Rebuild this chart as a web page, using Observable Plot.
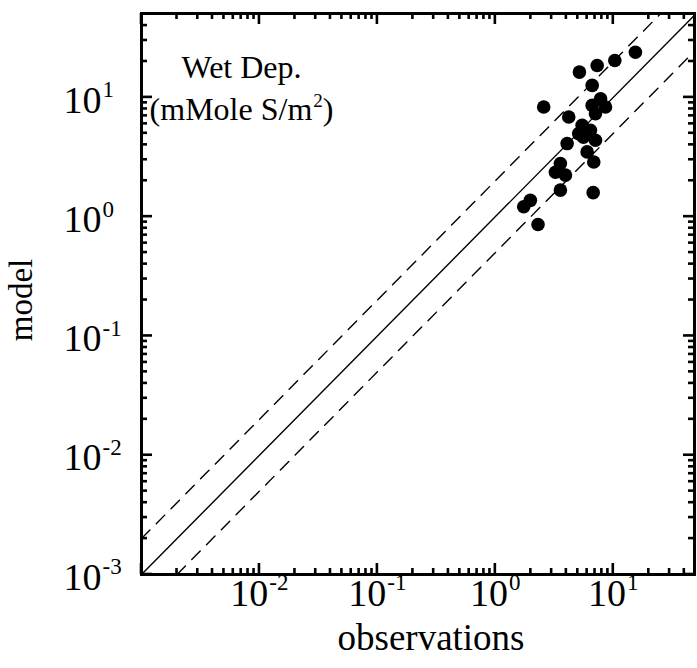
<!DOCTYPE html>
<html><head><meta charset="utf-8">
<script src="https://cdn.jsdelivr.net/npm/d3@7"></script>
<script src="https://cdn.jsdelivr.net/npm/@observablehq/plot@0.6"></script>
<style>body{margin:0;background:#fff} #chart svg{display:block}</style>
</head><body><div id="chart"></div>
<script>
// observations vs model (mMole S/m^2)
const obs   = [15.4, 10.3, 7.3, 5.16, 6.62, 2.57, 7.8, 6.62, 8.59, 7.06, 4.19, 5.44, 5.09, 6.4, 5.58, 7.06, 4.06, 6.0, 6.83, 3.56, 3.23, 3.93, 3.56, 6.75, 1.98, 1.74, 2.30];
const model = [23.9, 20.4, 18.5, 16.3, 12.6, 8.3, 9.75, 8.57, 8.3, 7.3, 6.84, 5.83, 4.97, 5.3, 4.63, 4.37, 4.1, 3.49, 2.87, 2.79, 2.36, 2.23, 1.67, 1.59, 1.37, 1.21, 0.86];
const xExponents = [-2, -1, 0, 1];
const yExponents = [-3, -2, -1, 0, 1];
const xDomain = [1e-3, 48.8];
const yDomain = [1e-3, 50.5];
const lineFactors = [1, 2, 0.5];
const titleLines = ["Wet Dep.", "(mMole S/m^{2})"];
const xLabel = "observations";
const yLabel = "model";

const W = 697, H = 668, mL = 141, mR = 3, mT = 13, mB = 94;
const innerW = W - mL - mR, innerH = H - mT - mB;

const points = obs.map((o, i) => ({obs: o, model: model[i]}));
const refLines = lineFactors.flatMap(f => {
  const x1 = Math.max(xDomain[0], yDomain[0] / f), x2 = Math.min(xDomain[1], yDomain[1] / f);
  return [{f, x: x1, y: f * x1}, {f, x: x2, y: f * x2}];
});
const isMajor = v => Math.abs(Math.log10(v) - Math.round(Math.log10(v))) < 1e-9;
const xAll = d3.scaleLog().domain(xDomain).ticks();
const yAll = d3.scaleLog().domain(yDomain).ticks();
const xMajor = xAll.filter(isMajor), xMinor = xAll.filter(v => !isMajor(v));
const yMajor = yAll.filter(isMajor), yMinor = yAll.filter(v => !isMajor(v));
const majLen = 11, minLen = 6, tw = 1.3;

// inward tick marks drawn as thin rects spanning a few pixels from each frame edge
const tickRectsX = (vals, len, side) => Plot.rect(vals, {
  x1: d => d, x2: d => d, insetLeft: -tw, insetRight: -tw,
  insetTop: side === "bottom" ? innerH - len : 0,
  insetBottom: side === "top" ? innerH - len : 0,
  fill: "#000"
});
const tickRectsY = (vals, len, side) => Plot.rect(vals, {
  y1: d => d, y2: d => d, insetTop: -tw, insetBottom: -tw,
  insetRight: side === "left" ? innerW - len : 0,
  insetLeft: side === "right" ? innerW - len : 0,
  fill: "#000"
});

const chart = Plot.plot({
  width: W, height: H,
  marginLeft: mL, marginRight: mR, marginTop: mT, marginBottom: mB,
  style: {fontFamily: "Liberation Serif"},
  x: {type: "log", domain: xDomain, axis: null},
  y: {type: "log", domain: yDomain, axis: null},
  marks: [
    Plot.line(refLines.filter(d => d.f === 1), {x: "x", y: "y", z: "f", stroke: "#000", strokeWidth: 1.4}),
    Plot.line(refLines.filter(d => d.f !== 1), {x: "x", y: "y", z: "f", stroke: "#000", strokeWidth: 1.4, strokeDasharray: "12,9"}),
    Plot.dot(points, {x: "obs", y: "model", r: 6.8, fill: "#000"}),
    tickRectsX(xMajor, majLen, "bottom"), tickRectsX(xMajor, majLen, "top"),
    tickRectsX(xMinor, minLen, "bottom"), tickRectsX(xMinor, minLen, "top"),
    tickRectsY(yMajor, majLen, "left"), tickRectsY(yMajor, majLen, "right"),
    tickRectsY(yMinor, minLen, "left"), tickRectsY(yMinor, minLen, "right"),
    Plot.frame({stroke: "#000", strokeWidth: 3}),
    // tick labels
    Plot.text(xExponents, {x: e => 10 ** e, text: e => `10^{${e}}`, frameAnchor: "bottom", dy: 31, fontSize: 38, textAnchor: "middle", fill: "#000"}),
    Plot.text(yExponents, {y: e => 10 ** e, text: e => `10^{${e}}`, frameAnchor: "left", dx: -78, dy: 3, fontSize: 38, textAnchor: "start", fill: "#000"}),
    // axis titles
    Plot.text([xLabel], {text: d => d, frameAnchor: "bottom", dx: 13, dy: 75, fontSize: 37, textAnchor: "middle", fill: "#000"}),
    Plot.text([yLabel], {text: d => d, frameAnchor: "left", dx: -120, dy: 6, fontSize: 33, rotate: -90, textAnchor: "middle", fill: "#000"}),
    // annotation
    Plot.text([titleLines[0]], {text: d => d, frameAnchor: "top-left", dx: 100, dy: 42, fontSize: 32, textAnchor: "middle", fill: "#000"}),
    Plot.text([titleLines[1]], {text: d => d, frameAnchor: "top-left", dx: 100, dy: 84, fontSize: 32, textAnchor: "middle", fill: "#000"})
  ]
});

// turn "base^{sup}rest" into real superscripts
chart.querySelectorAll("text").forEach(t => {
  const m = /^(.*)\^\{(.*?)\}(.*)$/.exec(t.textContent);
  if (!m) return;
  const fs = parseFloat(t.getAttribute("font-size") || t.parentNode.getAttribute("font-size") || 32);
  const shift = fs * 0.4;
  t.textContent = "";
  const ns = "http://www.w3.org/2000/svg";
  const a = document.createElementNS(ns, "tspan"); a.textContent = m[1]; t.appendChild(a);
  const b = document.createElementNS(ns, "tspan"); b.textContent = m[2];
  b.setAttribute("font-size", Math.round(fs * 0.6)); b.setAttribute("dy", -shift); b.setAttribute("dx", 1);
  t.appendChild(b);
  if (m[3]) {
    const c = document.createElementNS(ns, "tspan"); c.textContent = m[3];
    c.setAttribute("dy", shift); t.appendChild(c);
  }
});

document.getElementById("chart").appendChild(chart);
</script>
</body></html>
